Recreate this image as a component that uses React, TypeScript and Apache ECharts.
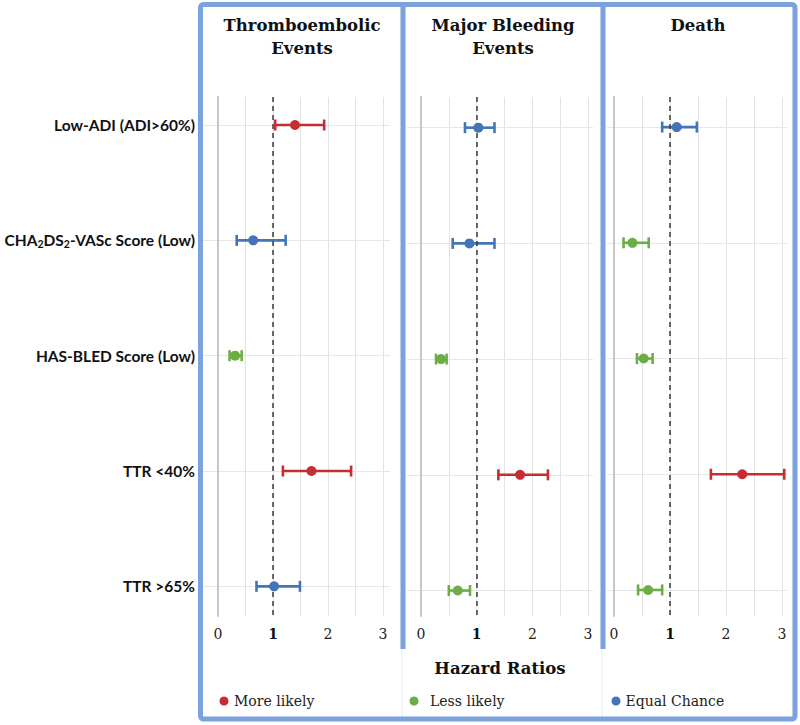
import React, { useEffect, useRef } from "react";
import * as echarts from "echarts";

// ---------- data ----------
const rowLabels = [
  "Low-ADI (ADI>60%)",
  "CHA₂DS₂-VASc Score (Low)",
  "HAS-BLED Score (Low)",
  "TTR <40%",
  "TTR >65%",
];
const panelTitles = ["Thromboembolic\nEvents", "Major Bleeding\nEvents", "Death"];
const xTickLabels = [0, 1, 2, 3];
const legendNames = ["More likely", "Less likely", "Equal Chance"];

// Thromboembolic events
const teHR = [1.4, 0.64, 0.31, 1.7, 1.02];
const teLo = [1.04, 0.34, 0.21, 1.18, 0.7];
const teHi = [1.93, 1.23, 0.43, 2.42, 1.49];
const teEffect = ["More likely", "Equal Chance", "Less likely", "More likely", "Equal Chance"];

// Major bleeding events
const mbHR = [1.03, 0.87, 0.36, 1.78, 0.66];
const mbLo = [0.79, 0.57, 0.27, 1.39, 0.5];
const mbHi = [1.32, 1.32, 0.46, 2.28, 0.88];
const mbEffect = ["Equal Chance", "Equal Chance", "Less likely", "More likely", "Less likely"];

// Death
const dHR = [1.12, 0.33, 0.53, 2.29, 0.61];
const dLo = [0.86, 0.17, 0.41, 1.73, 0.43];
const dHi = [1.48, 0.62, 0.69, 3.04, 0.86];
const dEffect = ["Equal Chance", "Less likely", "Less likely", "More likely", "Less likely"];

// ---------- styles / layout ----------
const COLORS: Record<string, string> = {
  "More likely": "#C62D33",
  "Less likely": "#6DAD45",
  "Equal Chance": "#4374B7",
};
const BORDER = "#7BA1DE";
const SERIF = "'DejaVu Serif', 'Liberation Serif', serif";
const SANS = "Lato, 'Open Sans', sans-serif";

const panels = [
  { hr: teHR, lo: teLo, hi: teHi, effect: teEffect, left: 218, width: 165, bgLeft: 203, bgWidth: 187, yMin: -0.243, yMax: 4.257, cx: 302 },
  { hr: mbHR, lo: mbLo, hi: mbHi, effect: mbEffect, left: 421, width: 167, bgLeft: 407, bgWidth: 186, yMin: -0.265, yMax: 4.22, cx: 503 },
  { hr: dHR, lo: dLo, hi: dHi, effect: dEffect, left: 614, width: 168, bgLeft: 607, bgWidth: 180, yMin: -0.26, yMax: 4.225, cx: 698 },
];
const GRID_TOP = 97;
const GRID_H = 519;

export default function App() {
  const ref = useRef<HTMLDivElement>(null);

  useEffect(() => {
    if (!ref.current) return;
    const chart = echarts.init(ref.current, null, { renderer: "svg" });

    const grid: any[] = [];
    const xAxis: any[] = [];
    const yAxis: any[] = [];
    const series: any[] = [];

    // main grids 0..2
    panels.forEach((p, pi) => {
      grid.push({ left: p.left, top: GRID_TOP, width: p.width, height: GRID_H, outerBoundsMode: "none", containLabel: false });
      xAxis.push({
        type: "value",
        gridIndex: pi,
        min: 0,
        max: 3,
        interval: 0.5,
        axisLine: { show: false },
        axisTick: { show: false },
        splitLine: { show: true, lineStyle: { color: "#e2e2e2", width: 1 } },
        axisLabel: {
          margin: 11,
          fontFamily: SERIF,
          fontSize: 14,
          color: "#222",
          formatter: (v: number) => {
            if (!xTickLabels.includes(v)) return "";
            return v === 1 ? "{b|1}" : String(v);
          },
          rich: { b: { fontFamily: SERIF, fontSize: 14, fontWeight: "bold", color: "#111" } },
        },
      });
      yAxis.push({
        type: "value",
        gridIndex: pi,
        inverse: true,
        min: p.yMin,
        max: p.yMax,
        axisLine: { show: true, onZero: false, lineStyle: { color: "#c6c6c6", width: 2 } },
        axisTick: { show: false },
        splitLine: { show: false },
        axisLabel:
          pi === 0
            ? {
                show: true,
                customValues: rowLabels.map((_, i) => i),
                margin: 23,
                fontFamily: SANS,
                fontSize: 15.5,
                fontWeight: "bold",
                color: "#111",
                lineHeight: 18,
                formatter: (v: number) => {
                  const s = rowLabels[Math.round(v)] || "";
                  return s.replace(/₂/g, "{sub|2}");
                },
                rich: {
                  sub: { fontFamily: SANS, fontSize: 10.5, fontWeight: "bold", color: "#111", lineHeight: 11, verticalAlign: "bottom" },
                },
              }
            : { show: false },
      });
    });

    // background grids 3..5 (horizontal row lines wider than the plot)
    panels.forEach((p, pi) => {
      grid.push({ left: p.bgLeft, top: GRID_TOP, width: p.bgWidth, height: GRID_H, outerBoundsMode: "none", containLabel: false });
      xAxis.push({ type: "value", gridIndex: 3 + pi, min: 0, max: 1, show: false });
      yAxis.push({ type: "value", gridIndex: 3 + pi, inverse: true, min: p.yMin, max: p.yMax, show: false });
      series.push({
        type: "scatter",
        xAxisIndex: 3 + pi,
        yAxisIndex: 3 + pi,
        symbolSize: 0,
        silent: true,
        data: rowLabels.map((_, i) => [0.5, i]),
        z: 0,
        markLine: {
          silent: true,
          z: 0,
          symbol: ["none", "none"],
          label: { show: false },
          lineStyle: { color: "#e6e6e6", width: 1, type: "solid" },
          emphasis: { disabled: true },
          data: rowLabels.map((_, i) => ({ yAxis: i })),
        },
      });
    });

    panels.forEach((p, pi) => {
      // reference line at HR = 1
      series.push({
        type: "scatter",
        xAxisIndex: pi,
        yAxisIndex: pi,
        symbolSize: 0,
        silent: true,
        data: rowLabels.map((_, i) => [1, i]),
        z: 3,
        markLine: {
          silent: true,
          z: 5,
          symbol: ["none", "none"],
          label: { show: false },
          lineStyle: { color: "#3a3a3a", width: 1.5, type: [5, 4] },
          emphasis: { disabled: true },
          data: [{ xAxis: 1 }],
        },
      });
      // confidence intervals
      series.push({
        type: "custom",
        xAxisIndex: pi,
        yAxisIndex: pi,
        silent: true,
        z: 4,
        encode: { x: [0, 2], y: 1 },
        data: rowLabels.map((_, i) => [p.lo[i], i, p.hi[i], legendNames.indexOf(p.effect[i])]),
        renderItem: (params: any, api: any) => {
          const a = api.coord([api.value(0), api.value(1)]);
          const b = api.coord([api.value(2), api.value(1)]);
          const color = COLORS[legendNames[api.value(3)]];
          const h = 5.5;
          const mk = () => ({ stroke: color, lineWidth: 2.6, fill: null });
          return {
            type: "group",
            children: [
              { type: "polyline", shape: { points: [[a[0], a[1]], [b[0], b[1]]] }, style: mk() },
              { type: "polyline", shape: { points: [[a[0], a[1] - h], [a[0], a[1] + h]] }, style: mk() },
              { type: "polyline", shape: { points: [[b[0], b[1] - h], [b[0], b[1] + h]] }, style: mk() },
            ],
          };
        },
      });
      // point estimates, grouped by effect
      legendNames.forEach((name) => {
        series.push({
          type: "scatter",
          name,
          xAxisIndex: pi,
          yAxisIndex: pi,
          symbol: "circle",
          symbolSize: 10,
          z: 6,
          itemStyle: { color: COLORS[name], opacity: 1 },
          data: rowLabels
            .map((_, i) => (p.effect[i] === name ? [p.hr[i], i] : null))
            .filter((d) => d !== null),
        });
      });
    });

    const legendPos = [
      { left: 214.5, pad: 0.5 },
      { left: 404.5, pad: 6.5 },
      { left: 606.5, pad: 0 },
    ];
    const legend = legendNames.map((name, i) => ({
      data: [name],
      left: legendPos[i].left,
      top: 689,
      icon: "circle",
      itemWidth: 9,
      itemHeight: 9,
      selectedMode: false,
      textStyle: { fontFamily: SERIF, fontSize: 14, color: "#222", padding: [0, 0, 0, legendPos[i].pad] },
    }));

    const graphic: any[] = [
      {
        type: "rect",
        shape: { x: 200.5, y: 4.5, width: 594.5, height: 714.5, r: 3 },
        style: { fill: "none", stroke: BORDER, lineWidth: 5 },
        z: 10,
      },
      { type: "line", shape: { x1: 403, y1: 4, x2: 403, y2: 649 }, style: { stroke: BORDER, lineWidth: 5 }, z: 10 },
      { type: "line", shape: { x1: 603, y1: 4, x2: 603, y2: 649 }, style: { stroke: BORDER, lineWidth: 5 }, z: 10 },
      { type: "line", shape: { x1: 402, y1: 649, x2: 402, y2: 717 }, style: { stroke: "#e6ebf3", lineWidth: 1 }, z: 9 },
      { type: "line", shape: { x1: 602, y1: 649, x2: 602, y2: 717 }, style: { stroke: "#e6ebf3", lineWidth: 1 }, z: 9 },
      {
        type: "text",
        x: 500,
        y: 668,
        style: { text: "Hazard Ratios", fontFamily: SERIF, fontSize: 16.5, fontWeight: "bold", fill: "#111", textAlign: "center", textVerticalAlign: "middle" },
      },
    ];
    panels.forEach((p, pi) => {
      graphic.push({
        type: "text",
        x: p.cx,
        y: 13.5,
        style: {
          text: panelTitles[pi],
          fontFamily: SERIF,
          fontSize: 16.5,
          fontWeight: "bold",
          fill: "#111",
          textAlign: "center",
          textVerticalAlign: "top",
          lineHeight: 23,
        },
      });
    });

    chart.setOption({
      animation: false,
      backgroundColor: "#ffffff",
      grid,
      xAxis,
      yAxis,
      legend,
      series,
      graphic,
    });

    return () => chart.dispose();
  }, []);

  return (
    <div
      ref={ref}
      style={{ position: "fixed", left: 0, top: 0, width: 800, height: 725, background: "#fff" }}
    />
  );
}
